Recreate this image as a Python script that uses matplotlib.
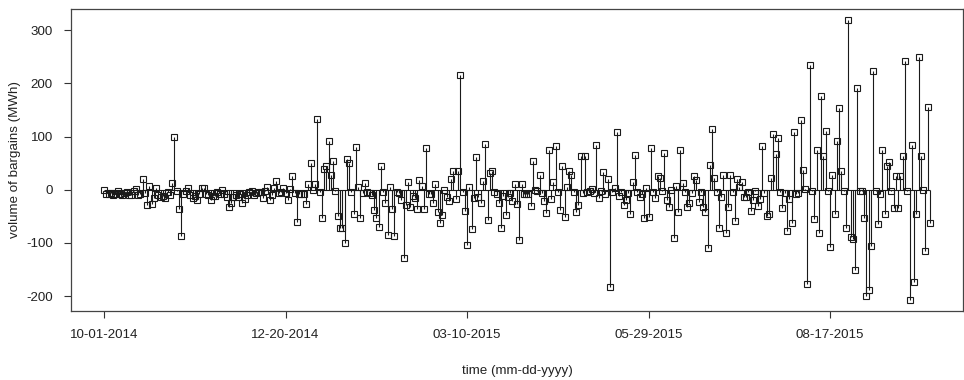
import matplotlib
matplotlib.use("Agg")
import matplotlib.pyplot as plt
import numpy as np

# daily volume of bargains (MWh), starting 10-01-2014
vol_a = [0, -8, -8, -7, -9, -8, -3, -8, -10, -6,
         -5, -9, -9, -3, 1, -10, -8, 20, -6, -28,
         8, -26, -16, 4, -10, -14, -12, -16, -4, -10,
         12, 99, -2, -36, -87, -8, -2, 3, -10, -16,
         -12, -20, -8, 3, 3, -8, -10, -20, -12, -12,
         -4, -8, 0, -8, -14, -33, -24, -14, -10, -14,
         -8, -24, -18, -10, -4, -2, -10, -6, -5, -4,
         -16, -3, 6, -20, -10, 3, 16, -6, -4, 4,
         -6, -20, 2, 25, -6, -60, -8, -8, -8, -26,
         10, 50, 0, 10, 133, -4, -53, 39, 44, 92,
         28, 55, -2, -50, -72, -72, -101, 58, 50, -4,
         -45, 81, 6, -54, -6, 13, -4, -6]
vol_b = [-9, -38, -53, -70, 45, -5, -25, -85, 6, -37,
         -87, -5, -7, -20, -128, -28, 14, -32, -11, -16,
         -36, 18, 8, -36, 79, -8, -8, -25, 11, -41,
         -62, -48, 0, -14, -21, 20, 35, -18, 35, 216,
         -5, -40, -104, 6, -73, -16, 62, -14, -25, 17,
         86, -56, 31, 35, -5, -8, -25, -71, -11, -47,
         -14, -7, -21, 11, -27, -95, 11, -8, -8, -8,
         -31, 54, 0, -2, 28, -7, -22, -43, 74, -17,
         14, 83, -5, -38, 44, -51, 6, 35, 28, -5,
         -41, -28, 63, -6, 64, -4, -3, 2, -6, 85,
         -16, -3, 34, -8, 21, -182, -5, 3, 108, -12,
         -5, -29, -19, -6, -46, 15, 66, -5, -14, -8,
         -54, 4, -52, 78, -5, -16, 25, 23]
vol_c = [-3, 69, -20, -33, 0, -90, 8, -41, 74, 12,
         -5, -33, -24, -6, 26, 19, -23, -5, -33, -41,
         -110, 46, 114, 23, -5, -71, -14, 28, -82, -32,
         27, -5, -58, 20, 6, 14, -14, -14, -5, -40,
         -20, -2, -30, -17, 83, -6, -50, -45, 23, 104,
         67, 98, -5, -35, -7, -78, -18, -62, 109, -8,
         -6, 131, 38, 1, -178, 235, -3, -55, 75, -82,
         177, 64, 111, -3, -108, 27, -46, 92, 154, 36,
         -3, -71, 319, -89, -93, -150, 191, -2, -2, -53,
         -199, -188, -105, 223, -3, -65, -8, 75, -45, 45,
         52, -3, -35, 25, -35, 25, 64, 242, -3, -207,
         85, -173, -46, 250, 64, 0, -115, 155, -63]
volume = np.array(vol_a + vol_b + vol_c, dtype=float)
days = np.arange(len(volume))

tick_days = [0, 80, 160, 240, 320]
tick_labels = ["10-01-2014", "12-20-2014", "03-10-2015", "05-29-2015", "08-17-2015"]
y_ticks = [-200, -100, 0, 100, 200, 300]

plt.rcParams["font.family"] = ["Liberation Sans", "DejaVu Sans"]
plt.rcParams["axes.unicode_minus"] = False

fig = plt.figure(figsize=(9.64, 3.8), dpi=100)
ax = fig.add_axes([71 / 964, 1 - 311 / 380, 892 / 964, 302 / 380])

ax.vlines(days, 0, volume, color="#1a1a1a", linewidth=0.8)
ax.hlines(0, days[0], days[-1], color="#1a1a1a", linewidth=0.8)
ax.plot(days, volume, "s", markersize=4.2, markerfacecolor="none",
        markeredgecolor="#1a1a1a", markeredgewidth=0.8)

# R style 4% padding
xr = days[-1] - days[0]
ax.set_xlim(days[0] - 0.04 * xr, days[-1] + 0.04 * xr)
yr = volume.max() - volume.min()
ax.set_ylim(volume.min() - 0.04 * yr, volume.max() + 0.04 * yr)

ax.set_xticks(tick_days)
ax.set_xticklabels(tick_labels)
ax.set_yticks(y_ticks)
ax.tick_params(axis="both", direction="out", length=5, width=0.8,
               color="#333333", labelsize=9.6, labelcolor="#222222", pad=8)
for s in ax.spines.values():
    s.set_color("#444444")
    s.set_linewidth(0.9)

ax.set_xlabel("time (mm-dd-yyyy)", fontsize=9.6, color="#222222", labelpad=17)
ax.set_ylabel("volume of bargains (MWh)", fontsize=9.6, color="#222222", labelpad=4)

fig.savefig("out.png", dpi=100)
